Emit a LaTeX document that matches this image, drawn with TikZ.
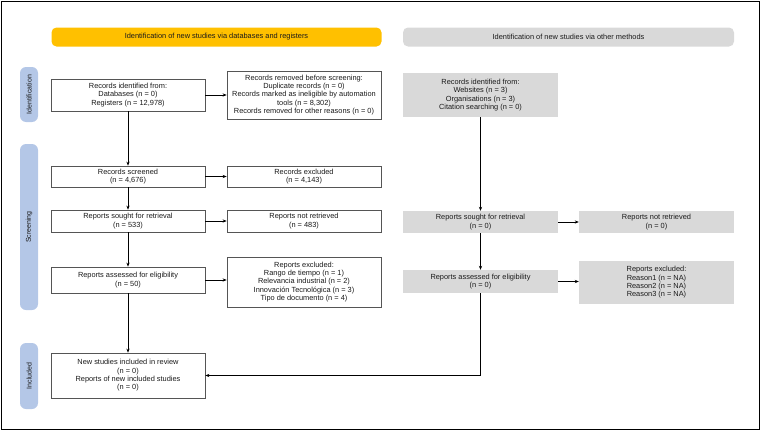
\documentclass[tikz,border=0pt]{standalone}
\usepackage{fontspec}
\setmainfont{Liberation Sans}
\usetikzlibrary{arrows.meta,calc}
\definecolor{hdryellow}{HTML}{FFC000}
\definecolor{hdrgray}{HTML}{D9D9D9}
\definecolor{sidebl}{HTML}{B4C7E7}
\definecolor{boxline}{HTML}{555555}
\definecolor{txt}{HTML}{1A1A1A}
\begin{document}
\begin{tikzpicture}[x=1pt,y=-1pt,
  every node/.style={font=\fontsize{7.4}{8.3}\selectfont, text=txt, inner sep=0pt, align=center},
  wbox/.style={draw=boxline, line width=0.7pt, fill=white},
  gbox/.style={fill=hdrgray},
  hdr/.style={rounded corners=5pt, minimum height=19pt, minimum width=330pt},
  side/.style={fill=sidebl, rounded corners=6pt, minimum width=18pt, font=\fontsize{7}{8}\selectfont},
  arr/.style={-{Stealth[length=4pt,width=3.2pt]}, line width=0.6pt, draw=black}
]
\useasboundingbox (0,0) rectangle (761,431);
\draw[line width=1pt] (1,1) rectangle (759,429);

% headers
\node[hdr, fill=hdryellow, minimum width=330pt] (h1) at (216.5,37) {Identification of new studies via databases and registers};
\node[hdr, fill=hdrgray, minimum width=331pt] (h2) at (568.5,37) {Identification of new studies via other methods};

% sidebars
\node[side, minimum height=55pt] (s1) at (29,94.5) {\rotatebox{90}{Identification}};
\node[side, minimum height=166pt] (s2) at (29,227) {\rotatebox{90}{Screening}};
\node[side, minimum height=66pt] (s3) at (29,376) {\rotatebox{90}{Included}};

% left column
\node[wbox, minimum width=154pt, minimum height=32pt] (ident) at (128,95) {Records identified from:\\Databases (n = 0)\\Registers (n = 12,978)};
\node[wbox, minimum width=154pt, minimum height=48pt] (removed) at (304,95) {Records removed before screening:\\Duplicate records (n = 0)\\Records marked as ineligible by automation\\tools (n = 8,302)\\Records removed for other reasons (n = 0)};
\node[wbox, minimum width=154pt, minimum height=21pt] (screened) at (128,176.5) {Records screened\\(n = 4,676)};
\node[wbox, minimum width=154pt, minimum height=21pt] (excluded) at (304,176.5) {Records excluded\\(n = 4,143)};
\node[wbox, minimum width=154pt, minimum height=22pt] (sought) at (128,221) {Reports sought for retrieval\\(n = 533)};
\node[wbox, minimum width=154pt, minimum height=22pt] (notret) at (304,221) {Reports not retrieved\\(n = 483)};
\node[wbox, minimum width=154pt, minimum height=26pt] (assess) at (128,280) {Reports assessed for eligibility\\(n = 50)};
\node[wbox, minimum width=154pt, minimum height=50pt] (repexc) at (304,282) {Reports excluded:\\Rango de tiempo (n = 1)\\Relevancia industrial (n = 2)\\Innovación Tecnológica (n = 3)\\Tipo de documento (n = 4)};
\node[wbox, minimum width=154pt, minimum height=45pt] (newst) at (128,375.5) {New studies included in review\\(n = 0)\\Reports of new included studies\\(n = 0)};

% right column
\node[gbox, minimum width=155pt, minimum height=44pt] (gident) at (480.5,95) {Records identified from:\\Websites (n = 3)\\Organisations (n = 3)\\Citation searching (n = 0)};
\node[gbox, minimum width=155pt, minimum height=22pt] (gsought) at (480.5,222) {Reports sought for retrieval\\(n = 0)};
\node[gbox, minimum width=155pt, minimum height=22pt] (gnotret) at (656.5,222) {Reports not retrieved\\(n = 0)};
\node[gbox, minimum width=155pt, minimum height=23pt] (gassess) at (480.5,281.5) {Reports assessed for eligibility\\(n = 0)};
\node[gbox, minimum width=155pt, minimum height=43pt] (gexc) at (656.5,282.5) {Reports excluded:\\Reason1 (n = NA)\\Reason2 (n = NA)\\Reason3 (n = NA)};

% connectors left
\draw[arr] (ident) -- (screened);
\draw[arr] (screened) -- (sought);
\draw[arr] (sought) -- (assess);
\draw[arr] (assess) -- (newst);
\draw[arr] (ident.east) -- (ident.east -| removed.west);
\draw[arr] (screened.east) -- (screened.east -| excluded.west);
\draw[arr] (sought.east) -- (sought.east -| notret.west);
\draw[arr] (assess.east) -- (assess.east -| repexc.west);

% connectors right
\draw[arr] (gident) -- (gsought);
\draw[arr] (gsought) -- (gassess);
\draw[arr] (gsought.east) -- (gsought.east -| gnotret.west);
\draw[arr] (gassess.east) -- (gassess.east -| gexc.west);
\draw[arr] (gassess.south) |- (newst.east);
\end{tikzpicture}
\end{document}
